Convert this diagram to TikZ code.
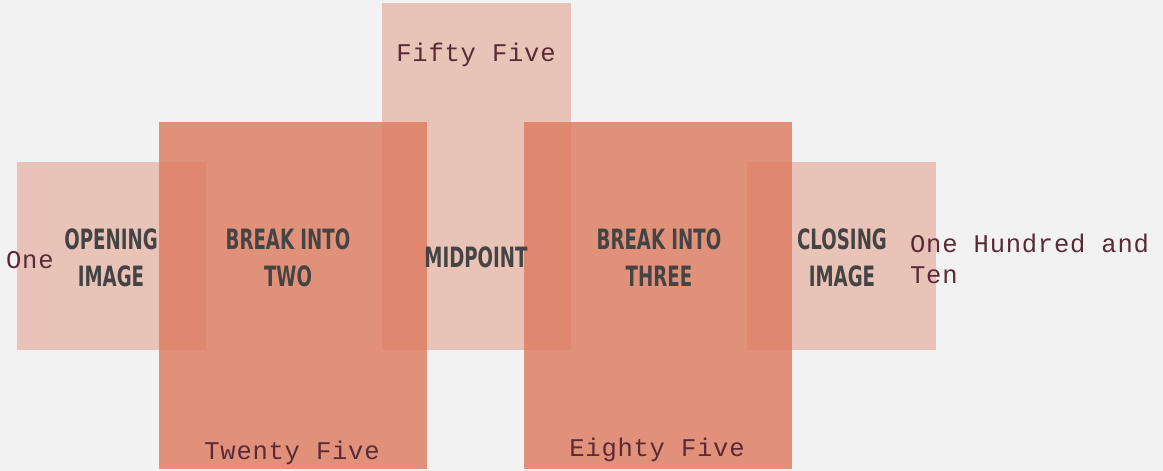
\documentclass[tikz,border=0pt]{standalone}
\usepackage{fontspec}
\newfontfamily\headfont{DejaVu Sans}[FakeStretch=0.65]
\newfontfamily\numfont{Liberation Mono}[LetterSpace=3]
\definecolor{bg}{HTML}{F2F2F2}
\definecolor{coral}{RGB}{221,121,93}
\definecolor{headcol}{HTML}{444444}
\definecolor{numcol}{HTML}{5B2A37}
\tikzset{
  lightbox/.style={draw=none, fill=coral, fill opacity=0.39, inner sep=0pt, minimum width=189pt, minimum height=188pt},
  darkbox/.style={draw=none, fill=coral, fill opacity=0.8, inner sep=0pt, minimum width=268pt, minimum height=347pt},
  midbox/.style={lightbox, minimum height=347pt},
  head/.style={text=headcol, font=\headfont\bfseries\fontsize{28}{37}\selectfont, align=center, inner sep=0pt},
  num/.style={text=numcol, font=\numfont\fontsize{25.5}{31}\selectfont, inner sep=0pt},
}
\begin{document}
\begin{tikzpicture}[x=1pt,y=-1pt]
\fill[bg] (0,0) rectangle (1163,471);
\useasboundingbox (0,0) rectangle (1163,471);
\node[lightbox] (open) at (111.5,256) {};
\node[midbox] (mid) at (476.5,176.5) {};
\node[lightbox] (close) at (841.5,256) {};
\node[darkbox] (two) at (293,295.5) {};
\node[darkbox] (three) at (658,295.5) {};
\node[head] (openT) at (111,258) {OPENING\\IMAGE};
\node[head] (twoT) at (288,258) {BREAK INTO\\TWO};
\node[head] (midT) at (476,257) {MIDPOINT};
\node[head] (threeT) at (659,258) {BREAK INTO\\THREE};
\node[head] (closeT) at (842,258) {CLOSING\\IMAGE};
\node[num, anchor=west] (n1) at (6,260) {One};
\node[num] (n55) at (476,54.5) {Fifty Five};
\node[num] (n25) at (292,452.5) {Twenty Five};
\node[num] (n85) at (657,449.5) {Eighty Five};
\node[num, anchor=west, align=left] (n110) at (910,259) {One Hundred and\\Ten};
\end{tikzpicture}
\end{document}
